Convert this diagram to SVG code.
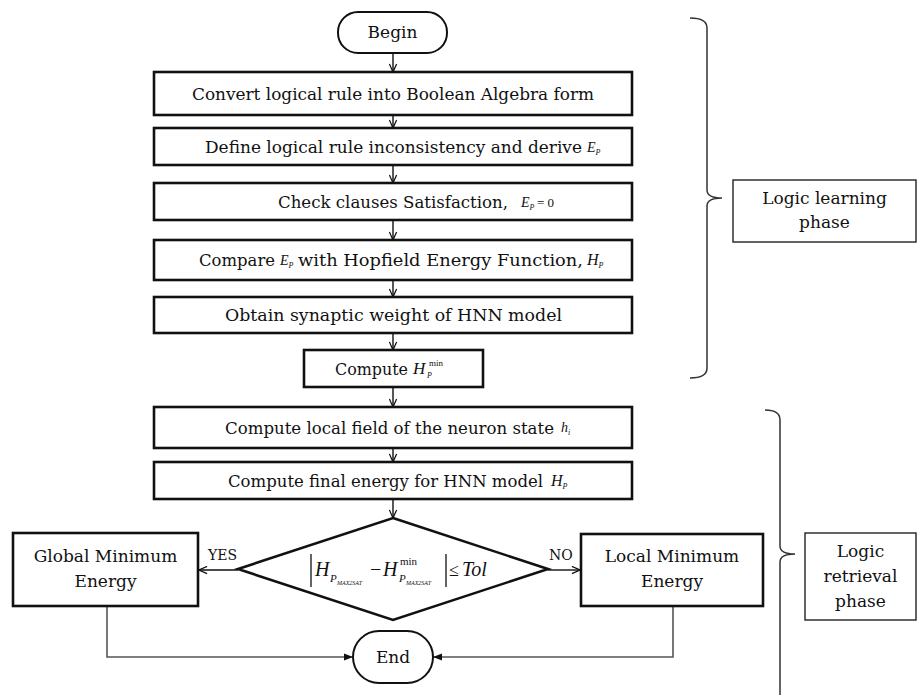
<svg xmlns="http://www.w3.org/2000/svg" width="919" height="695" viewBox="0 0 919 695">
<style>
.box{fill:#fff;stroke:#111;stroke-width:2.6}
.term{fill:#fff;stroke:#111;stroke-width:2}
.lbl{fill:#fff;stroke:#222;stroke-width:1.4}
.t{font-family:"DejaVu Serif","Liberation Serif",serif;font-size:17px;fill:#111}
.c{text-anchor:middle}
.m{font-family:"Liberation Serif",serif;font-style:italic;fill:#111}
.mu{font-family:"Liberation Serif",serif;fill:#111}
.flow{stroke:#111;stroke-width:1.4;fill:none}
.back{stroke:#555;stroke-width:1.6;fill:none}
.brace{stroke:#333;stroke-width:1.5;fill:none}
</style>
<defs>
<marker id="open" viewBox="0 0 10 10" refX="10" refY="5" markerWidth="9" markerHeight="9" markerUnits="userSpaceOnUse" orient="auto">
<path d="M1,1 L10,5 L1,9" fill="none" stroke="#111" stroke-width="1.4"/>
</marker>
<marker id="fill" viewBox="0 0 10 10" refX="10" refY="5" markerWidth="9" markerHeight="9" markerUnits="userSpaceOnUse" orient="auto">
<path d="M0,1 L10,5 L0,9 Z" fill="#111"/>
</marker>
</defs>

<g id="connectors">
<path class="flow" d="M393,53 V72" marker-end="url(#open)"/>
<path class="flow" d="M393,115 V128" marker-end="url(#open)"/>
<path class="flow" d="M393,165 V183" marker-end="url(#open)"/>
<path class="flow" d="M393,220 V240" marker-end="url(#open)"/>
<path class="flow" d="M393,280 V297" marker-end="url(#open)"/>
<path class="flow" d="M393,333 V350" marker-end="url(#open)"/>
<path class="flow" d="M393,387 V407" marker-end="url(#open)"/>
<path class="flow" d="M393,448 V462" marker-end="url(#open)"/>
<path class="flow" d="M393,499 V518" marker-end="url(#open)"/>
<path class="flow" d="M238,570 H199" marker-end="url(#open)"/>
<path class="flow" d="M548,570 H580" marker-end="url(#open)"/>
<path class="back" d="M107,606 V657 H353" marker-end="url(#fill)"/>
<path class="back" d="M673,606 V657 H433" marker-end="url(#fill)"/>
<text class="t" x="208" y="560" style="font-size:14px">YES</text>
<text class="t" x="549" y="560" style="font-size:14px">NO</text>
</g>

<g id="begin">
<rect class="term" x="338" y="12" width="109" height="41" rx="20"/>
<text class="t c" x="392.5" y="38">Begin</text>
</g>

<g id="convert">
<rect class="box" x="154" y="72" width="478" height="43"/>
<text class="t" x="192" y="99.5" textLength="402" lengthAdjust="spacingAndGlyphs">Convert logical rule into Boolean Algebra form</text>
</g>

<g id="define">
<rect class="box" x="154" y="128" width="478" height="37"/>
<text class="t" x="205" y="152.5" textLength="377" lengthAdjust="spacingAndGlyphs">Define logical rule inconsistency and derive</text>
<text class="m" x="587" y="152" font-size="14">E<tspan font-size="8" dy="3">P</tspan></text>
</g>

<g id="check">
<rect class="box" x="154" y="183" width="478" height="37"/>
<text class="t" x="278" y="207.5" textLength="230" lengthAdjust="spacingAndGlyphs">Check clauses Satisfaction,</text>
<text class="m" x="521" y="207" font-size="14">E<tspan font-size="8" dy="3">P</tspan></text>
<text class="mu" x="537" y="207" font-size="13">= 0</text>
</g>

<g id="compare">
<rect class="box" x="154" y="240" width="478" height="40"/>
<text class="t" x="199" y="266" textLength="76" lengthAdjust="spacingAndGlyphs">Compare</text>
<text class="m" x="280" y="265" font-size="14">E<tspan font-size="8" dy="3">P</tspan></text>
<text class="t" x="298" y="266" textLength="285" lengthAdjust="spacingAndGlyphs">with Hopfield Energy Function,</text>
<text class="m" x="587" y="265" font-size="16">H<tspan font-size="8" dy="3">P</tspan></text>
</g>

<g id="obtain">
<rect class="box" x="154" y="297" width="478" height="36"/>
<text class="t" x="225" y="321" textLength="337" lengthAdjust="spacingAndGlyphs">Obtain synaptic weight of HNN model</text>
</g>

<g id="computeHmin">
<rect class="box" x="304" y="350" width="179" height="37"/>
<text class="t" x="335" y="374.5" textLength="73" lengthAdjust="spacingAndGlyphs">Compute</text>
<text class="m" x="413" y="374" font-size="17">H</text>
<text class="mu" x="429" y="366" font-size="9">min</text>
<text class="m" x="427" y="378" font-size="8">P</text>
</g>

<g id="localfield">
<rect class="box" x="154" y="407" width="478" height="41"/>
<text class="t" x="225" y="433.5" textLength="329" lengthAdjust="spacingAndGlyphs">Compute local field of the neuron state</text>
<text class="m" x="561" y="432" font-size="14">h<tspan font-size="8" dy="3">i</tspan></text>
</g>

<g id="finalenergy">
<rect class="box" x="154" y="462" width="478" height="37"/>
<text class="t" x="228" y="486.5" textLength="315" lengthAdjust="spacingAndGlyphs">Compute final energy for HNN model</text>
<text class="m" x="551" y="486" font-size="16">H<tspan font-size="8" dy="3">P</tspan></text>
</g>

<g id="decision">
<polygon points="393,518 548,569 393,620 238,569" fill="#fff" stroke="#111" stroke-width="2.6"/>
<line x1="311" y1="554" x2="311" y2="587" stroke="#111" stroke-width="1.3"/>
<line x1="446" y1="554" x2="446" y2="587" stroke="#111" stroke-width="1.3"/>
<text class="m" x="315" y="576" font-size="20">H</text>
<text class="m" x="330" y="582" font-size="11">P</text>
<text class="m" x="337" y="585" font-size="6">MAX2SAT</text>
<text class="mu" x="370" y="576" font-size="20">−</text>
<text class="m" x="383" y="576" font-size="20">H</text>
<text class="mu" x="400" y="565" font-size="11">min</text>
<text class="m" x="399" y="582" font-size="11">P</text>
<text class="m" x="406" y="585" font-size="6">MAX2SAT</text>
<text class="mu" x="449" y="576" font-size="18">≤</text>
<text class="m" x="462" y="576" font-size="20">Tol</text>
</g>

<g id="global">
<rect class="box" x="13" y="533" width="185" height="73"/>
<text class="t c" x="105.5" y="562">Global Minimum</text>
<text class="t c" x="105.5" y="587">Energy</text>
</g>

<g id="local">
<rect class="box" x="581" y="534" width="182" height="72"/>
<text class="t c" x="672" y="562">Local Minimum</text>
<text class="t c" x="672" y="587">Energy</text>
</g>

<g id="end">
<rect class="term" x="353" y="631" width="80" height="52" rx="26"/>
<text class="t c" x="393" y="663">End</text>
</g>

<g id="learning-brace">
<path class="brace" d="M690,18 Q707,18 707,28 L707,190 Q707,198 722,198 Q707,198 707,206 L707,368 Q707,378 690,378"/>
</g>

<g id="learning-label">
<rect class="lbl" x="733" y="180" width="183" height="62"/>
<text class="t c" x="824.5" y="204">Logic learning</text>
<text class="t c" x="824.5" y="228">phase</text>
</g>

<g id="retrieval-brace">
<path class="brace" d="M765,410 Q780,410 780,420 L780,546 Q780,554 795,554 Q780,554 780,562 L780,700"/>
</g>

<g id="retrieval-label">
<rect class="lbl" x="805" y="533" width="111" height="87"/>
<text class="t c" x="860.5" y="557">Logic</text>
<text class="t c" x="860.5" y="582">retrieval</text>
<text class="t c" x="860.5" y="607">phase</text>
</g>
</svg>
